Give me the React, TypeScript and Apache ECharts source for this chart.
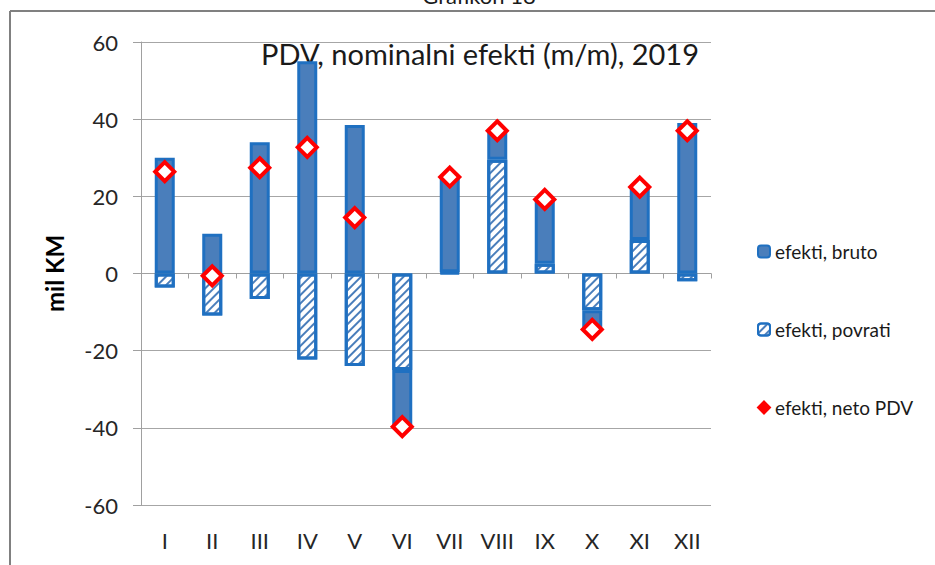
import React, { useEffect, useRef } from "react";
import * as echarts from "echarts";

const months = ["I", "II", "III", "IV", "V", "VI", "VII", "VIII", "IX", "X", "XI", "XII"];
const bruto = [30, 10.3, 34, 55, 38.5, -14.7, 24.7, 7.5, 16.7, -5, 13.7, 39];
const povrati = [-3.6, -10.9, -6.6, -22.3, -24, -25, 0.3, 29.5, 2.5, -9.5, 8.7, -2];
const neto = [26.4, -0.6, 27.4, 32.7, 14.5, -39.7, 25, 37, 19.2, -14.5, 22.4, 37];
const yTicks = [-60, -40, -20, 0, 20, 40, 60];

const FONT = "Lato";
const FILL = "#4A7EBB";
const EDGE = "#1F70C1";

export default function App() {
  const ref = useRef<HTMLDivElement>(null);
  useEffect(() => {
    if (!ref.current) return;
    const chart = echarts.init(ref.current, null, { renderer: "svg" });
    chart.setOption({
      animation: false,
      backgroundColor: "#ffffff",
      textStyle: { fontFamily: FONT },
      graphic: [
        { type: "line", shape: { x1: 10, y1: 11, x2: 935, y2: 11 }, style: { stroke: "#808080", lineWidth: 2 } },
        { type: "line", shape: { x1: 10, y1: 11, x2: 10, y2: 565 }, style: { stroke: "#808080", lineWidth: 2 } },
        {
          type: "text",
          x: 479,
          y: 6,
          style: { text: "Grafikon 18", font: `22px ${FONT}`, fill: "#1a1a1a", align: "center", verticalAlign: "bottom" },
        },
        {
          type: "text",
          x: 480,
          y: 53,
          style: { text: "PDV, nominalni efekti (m/m), 2019", font: `29px ${FONT}`, fill: "#1a1a1a", align: "center", verticalAlign: "middle" },
        },
      ],
      legend: {
        orient: "vertical",
        left: 752,
        top: 237,
        itemWidth: 12,
        itemHeight: 12,
        itemGap: 59,
        textStyle: { fontFamily: FONT, fontSize: 19, color: "#1a1a1a" },
        data: [
          { name: "efekti, bruto" },
          { name: "efekti, povrati" },
          { name: "efekti, neto PDV", itemStyle: { color: "#FF0000", borderColor: "#FF0000" } },
        ],
      },
      grid: { left: 141, right: 224, top: 42, bottom: 60 },
      xAxis: [
        {
          type: "category",
          data: months,
          axisLine: { onZero: true, lineStyle: { color: "#A0A0A0", width: 1 } },
          axisTick: { show: true, length: 5, lineStyle: { color: "#A0A0A0" } },
          axisLabel: { show: false },
        },
        {
          type: "category",
          data: months,
          position: "bottom",
          axisLine: { show: false, onZero: false },
          axisTick: { show: false },
          axisLabel: { show: true, margin: 24, fontSize: 22, color: "#262626", fontFamily: FONT },
        },
      ],
      yAxis: {
        type: "value",
        min: yTicks[0],
        max: yTicks[yTicks.length - 1],
        interval: 20,
        name: "mil KM",
        nameLocation: "middle",
        nameGap: 75,
        nameTextStyle: { fontSize: 24, fontWeight: "bold", color: "#000", fontFamily: FONT },
        axisLine: { show: true, lineStyle: { color: "#A0A0A0" } },
        axisTick: { show: true, length: 8, lineStyle: { color: "#A0A0A0" } },
        axisLabel: { margin: 23, fontSize: 22, color: "#262626", fontFamily: FONT },
        splitLine: { show: true, lineStyle: { color: "#A6A6A6", width: 1 } },
      },
      series: [
        {
          name: "efekti, povrati",
          type: "bar",
          stack: "s",
          xAxisIndex: 0,
          barWidth: 20,
          data: povrati,
          itemStyle: {
            color: "#ffffff",
            borderColor: EDGE,
            borderWidth: 3,
            decal: {
              symbol: "rect",
              symbolSize: 1,
              dashArrayX: [1, 0],
              dashArrayY: [2, 4],
              rotation: -Math.PI / 4,
              color: FILL,
            },
          },
        },
        {
          name: "efekti, bruto",
          type: "bar",
          stack: "s",
          xAxisIndex: 0,
          barWidth: 20,
          data: bruto,
          itemStyle: { color: FILL, borderColor: EDGE, borderWidth: 3 },
        },
        {
          name: "efekti, neto PDV",
          type: "scatter",
          xAxisIndex: 0,
          symbol: "diamond",
          symbolSize: 19,
          data: neto,
          z: 5,
          itemStyle: { color: "#ffffff", borderColor: "#FF0000", borderWidth: 4, opacity: 1 },
        },
      ],
    });
    return () => chart.dispose();
  }, []);
  return <div ref={ref} style={{ position: "fixed", left: 0, top: 0, width: 935, height: 565 }} />;
}
